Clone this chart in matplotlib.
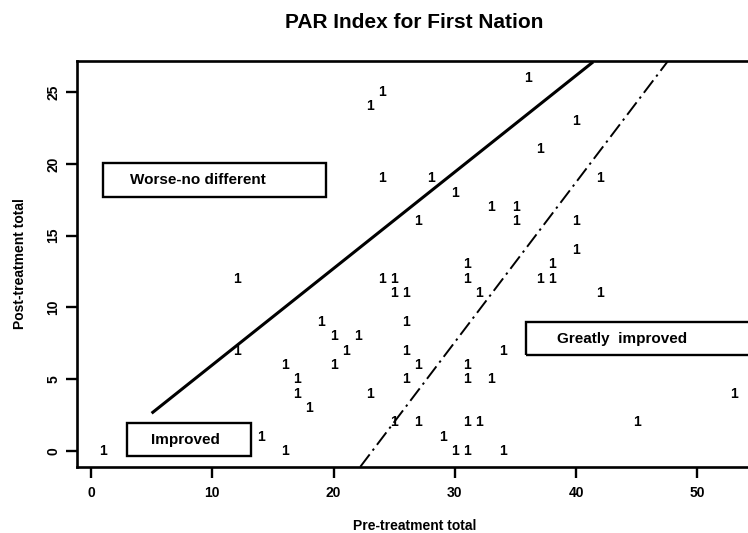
import matplotlib
matplotlib.use("Agg")
import matplotlib.pyplot as plt
from matplotlib.patches import Rectangle

plt.rcParams['font.family'] = ['Liberation Sans', 'DejaVu Sans']
plt.rcParams['font.weight'] = 'bold'

# pre / post treatment totals (each point plotted as the label "1")
pre = [1, 14, 16, 12, 12, 16, 17, 17, 18, 19, 20, 21, 22, 20, 23, 25, 27,
       24, 23, 24, 24, 25, 25, 26, 26, 26, 27, 26, 31, 31, 37, 38, 38, 32,
       42, 34, 31, 31, 33, 53, 31, 32, 45, 29, 30, 31, 34, 40, 36, 40, 37,
       28, 42, 30, 33, 35, 35, 27, 40]
post = [0, 1, 0, 7, 12, 6, 5, 4, 3, 9, 8, 7, 8, 6, 4, 2, 2,
        25, 24, 19, 12, 12, 11, 11, 9, 7, 6, 5, 13, 12, 12, 12, 13, 11,
        11, 7, 6, 5, 5, 4, 2, 2, 2, 1, 0, 0, 0, 14, 26, 23, 21,
        19, 19, 18, 17, 17, 16, 16, 16]
point_label = "1"

# boundary lines
upper_x = [5.0, 41.4]
upper_y = [2.63, 27.1]
lower_x = [22.2, 47.6]
lower_y = [-1.1, 27.2]

region_labels = ["Worse-no different", "Improved", "Greatly  improved"]

fig = plt.figure(figsize=(7.48, 5.33), dpi=100)
ax = fig.add_axes([0.1029, 0.1238, 0.9024, 0.7617])

for x, y in zip(pre, post):
    ax.text(x, y, point_label, ha='center', va='center', fontsize=10,
            fontweight='bold')

ax.plot(upper_x, upper_y, color='black', lw=2.2, solid_capstyle='butt')
ax.plot(lower_x, lower_y, color='black', lw=1.4, linestyle=(0, (8, 2.5, 1.2, 2.5)))

# labelled boxes
boxes = [(0.96, 17.7, 18.4, 2.38), (2.94, -0.35, 10.23, 2.28), (35.9, 6.69, 20.0, 2.31)]
text_pos = [(3.2, 18.9, 'left'), (7.8, 0.77, 'center'), (38.4, 7.8, 'left')]
for (bx, by, bw, bh), (tx, ty, ha), lab in zip(boxes, text_pos, region_labels):
    ax.add_patch(Rectangle((bx, by), bw, bh, fill=False, edgecolor='black', lw=1.7))
    ax.text(tx, ty, lab, ha=ha, va='center', fontsize=11, fontweight='bold')

ax.set_xlim(-1.154, 54.49)
ax.set_ylim(-1.114, 27.16)
ax.set_xticks([0, 10, 20, 30, 40, 50])
ax.set_yticks([0, 5, 10, 15, 20, 25])
ax.tick_params(axis='both', direction='out', length=8, width=1.7, labelsize=10)
plt.setp(ax.get_yticklabels(), rotation=90, va='center')
for lab in ax.get_xticklabels() + ax.get_yticklabels():
    lab.set_fontweight('bold')
ax.tick_params(axis='x', pad=6)
ax.tick_params(axis='y', pad=4)
for s in ['left', 'bottom', 'top']:
    ax.spines[s].set_linewidth(1.9)
ax.spines['right'].set_visible(False)

ax.set_xlabel("Pre-treatment total", fontsize=10, fontweight='bold', labelpad=13)
ax.set_ylabel("Post-treatment total", fontsize=10, fontweight='bold', labelpad=14)
fig.text(0.5535, 0.958, "PAR Index for First Nation", ha='center', va='center',
         fontsize=15, fontweight='bold')

fig.savefig("out.png", dpi=100)
